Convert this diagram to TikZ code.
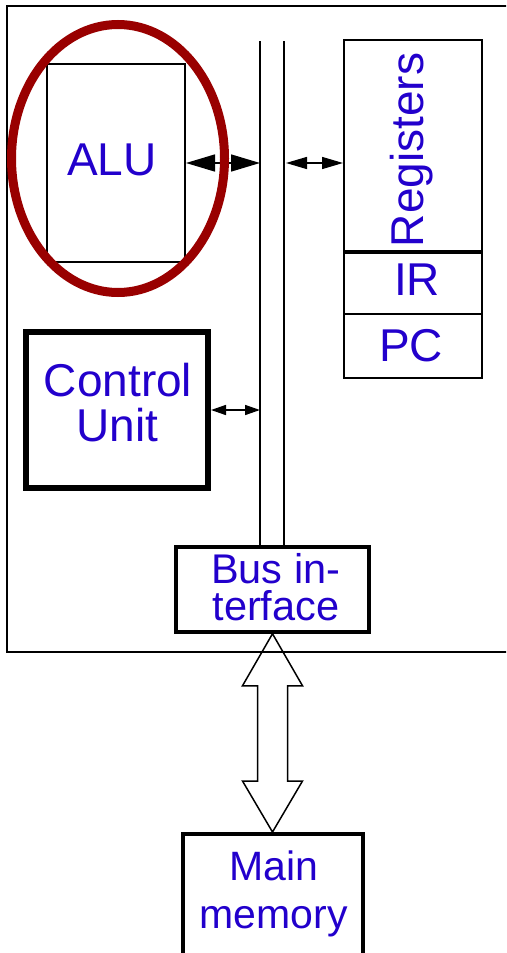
\documentclass[tikz,border=0pt]{standalone}
\usepackage{fontspec}
\setmainfont{Liberation Sans}
\usetikzlibrary{arrows.meta,calc}
\definecolor{labelblue}{RGB}{34,0,204}
\definecolor{ringred}{RGB}{153,0,0}

\begin{document}
\begin{tikzpicture}[x=1pt,y=-1pt,
  box/.style={draw,rectangle,inner sep=0pt,line width=2pt},
  lbl/.style={text=labelblue,inner sep=0pt,anchor=base,font=\fontsize{46}{46}\selectfont},
  lblsm/.style={lbl,font=\fontsize{41.5}{41.5}\selectfont},
  busline/.style={line width=1.5pt},
  bigdbl/.style={line width=1.5pt,{Triangle[length=29pt,width=17pt]}-{Triangle[length=29pt,width=17pt]}},
  meddbl/.style={line width=1.5pt,{Triangle[length=21pt,width=12pt]}-{Triangle[length=21pt,width=12pt]}},
  smalldbl/.style={line width=1.5pt,{Triangle[length=15pt,width=10pt]}-{Triangle[length=15pt,width=10pt]}},
  hollow/.style={line width=1.5pt,line join=miter}
]
\useasboundingbox (0,0) rectangle (506,953);
\clip (0,0) rectangle (506,953);

% processor frame (runs off the right edge)
\draw[line width=2pt] (7,6) rectangle (540,652);

% internal bus
\coordinate (busLt) at (260,41);
\coordinate (busRt) at (284,41);

% units
\node[box,minimum width=138pt,minimum height=198pt] (alu) at (116,163) {};
\node[box,minimum width=138pt,minimum height=211pt] (reg) at (413,145.5) {};
\node[box,minimum width=138pt,minimum height=63pt] (ir) at (413,282.5) {};
\node[box,minimum width=138pt,minimum height=64pt] (pc) at (413,346) {};
\draw[line width=3pt] (reg.south west) -- (reg.south east);
\node[box,line width=6pt,minimum width=182pt,minimum height=156pt] (cu) at (117,410) {};
\node[box,line width=3.5pt,minimum width=193pt,minimum height=85pt] (bi) at (272.5,589.5) {};
\node[box,line width=4pt,minimum width=180pt,minimum height=140pt] (mem) at (272.5,904) {};

% bus lines
\draw[busline] (busLt) -- (busLt |- bi.north);
\draw[busline] (busRt) -- (busRt |- bi.north);

% labels
\node[lbl] (alut) at (112,175) {ALU};
\node[lbl,rotate=90] (regt) at (423,150) {Registers};
\node[lbl] (irt) at (417,295.7) {IR};
\node[lbl] (pct) at (411,361) {PC};
\node[lbl] (cut1) at (118,396) {Control};
\node[lbl] (cut2) at (117.5,441.7) {Unit};
\node[lblsm] (bit1) at (275.7,583.3) {Bus in-};
\node[lblsm] (bit2) at (276,620.7) {terface};
\node[lblsm,font=\fontsize{41}{41}\selectfont] (memt1) at (274,880) {Main};
\node[lblsm,font=\fontsize{41}{41}\selectfont] (memt2) at (273.6,928) {memory};

% connections to the bus
\draw[bigdbl] (alu.east) -- (alu.east -| busLt);
\draw[meddbl] ($(busRt |- alu.east)+(2,0)$) -- (reg.west |- alu.east);
\draw[smalldbl] (cu.east) -- (cu.east -| busLt);

% hollow double arrow between bus interface and memory
\draw[hollow] (bi.south) -- ++(30,52) -- ++(-15,0)
  -- ($(mem.north)+(15,-51)$) -- ++(15,0) -- (mem.north)
  -- ++(-30,-51) -- ++(15,0) -- ($(bi.south)+(-15,52)$)
  -- ++(-15,0) -- cycle;

% highlight ring round the ALU
\draw[ringred,line width=9pt] (118,158.5) ellipse [x radius=106.5pt,y radius=134pt];
\end{tikzpicture}
\end{document}
